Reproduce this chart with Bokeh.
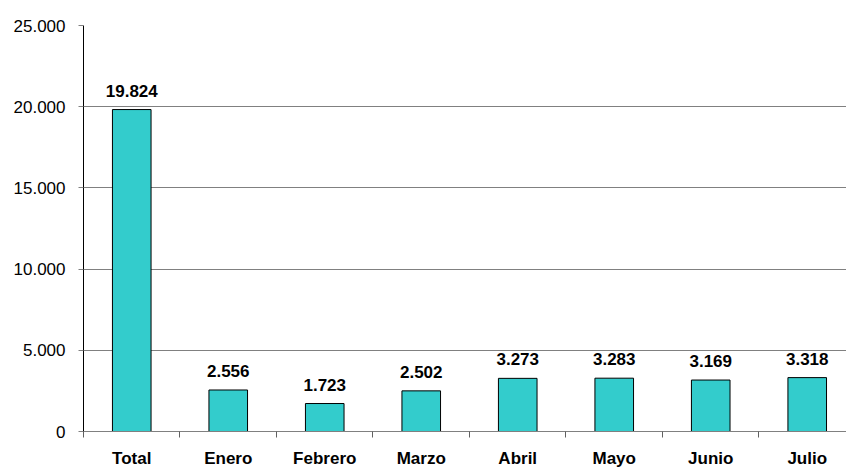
from bokeh.plotting import figure
from bokeh.models import ColumnDataSource, Range1d, FixedTicker, LabelSet
from bokeh.core.properties import value
from bokeh.embed import file_html
from bokeh.resources import INLINE

categories = ["Total", "Enero", "Febrero", "Marzo", "Abril", "Mayo", "Junio", "Julio"]
values = [19824, 2556, 1723, 2502, 3273, 3283, 3169, 3318]
y_ticks = [0, 5000, 10000, 15000, 20000, 25000]

def fmt(v):
    return f"{v:,}".replace(",", ".")

xs = list(range(len(categories)))
source = ColumnDataSource(dict(
    x=xs,
    top=values,
    label=[fmt(v) for v in values],
))

FONT = "Liberation Sans"

p = figure(
    width=846, height=470,
    output_backend="svg", toolbar_location=None,
    x_range=Range1d(-0.5, 7.407), y_range=Range1d(0, 25000),
    min_border_left=83, min_border_top=25, min_border_right=0, min_border_bottom=37,
)
p.outline_line_color = None
p.background_fill_color = "white"
p.border_fill_color = "white"

p.vbar(x="x", top="top", bottom=0, width=0.40, source=source,
       fill_color="#33CCCC", line_color="black", line_width=1)

labels = LabelSet(x="x", y="top", text="label", source=source,
                  text_align="center", text_baseline="bottom", y_offset=13,
                  text_font=value(FONT), text_font_style="bold", text_font_size="17px",
                  text_color="black")
p.add_layout(labels)

# Grid
p.xgrid.grid_line_color = None
p.ygrid.ticker = FixedTicker(ticks=y_ticks)
p.ygrid.grid_line_color = "#808080"
p.ygrid.grid_line_width = 1

# Y axis
p.yaxis.ticker = FixedTicker(ticks=y_ticks)
p.yaxis.major_label_overrides = {t: fmt(t) for t in y_ticks}
p.yaxis.axis_line_color = "black"
p.yaxis.major_tick_line_color = "#808080"
p.yaxis.major_tick_out = 5
p.yaxis.major_tick_in = 0
p.yaxis.minor_tick_line_color = None
p.yaxis.major_label_standoff = 13
p.yaxis.major_label_text_font = FONT
p.yaxis.major_label_text_font_size = "17px"
p.yaxis.major_label_text_color = "black"

# X axis: labels at centres, tick marks at category boundaries
bounds = [i - 0.5 for i in range(len(categories) + 1)]
p.xaxis.ticker = FixedTicker(ticks=xs, minor_ticks=bounds)
p.xaxis.major_label_overrides = {i: c for i, c in enumerate(categories)}
p.xaxis.axis_line_color = "#808080"
p.xaxis.major_tick_line_color = None
p.xaxis.major_tick_out = 0
p.xaxis.major_tick_in = 0
p.xaxis.minor_tick_line_color = "#606060"
p.xaxis.minor_tick_out = 6
p.xaxis.minor_tick_in = 0
p.xaxis.major_label_standoff = 11
p.xaxis.major_label_text_font = FONT
p.xaxis.major_label_text_font_style = "bold"
p.xaxis.major_label_text_font_size = "17px"
p.xaxis.major_label_text_color = "black"

open("out.html", "w").write(file_html(p, INLINE))
